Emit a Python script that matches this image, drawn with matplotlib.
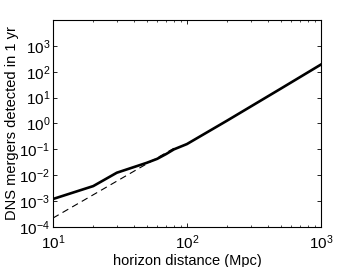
import numpy as np
import matplotlib.pyplot as plt

plt.rcParams['font.family'] = ['Liberation Sans', 'DejaVu Sans']

# solid curve: total detected mergers
dist_solid = [10, 20, 30, 50, 60, 70, 80, 100, 200, 500, 1000]
rate_solid = [1.2e-3, 3.8e-3, 1.25e-2, 3.0e-2, 4.3e-2, 6.6e-2, 1.0e-1, 1.6e-1, 1.3, 22, 190]

# dashed curve: cubic scaling
dist_dash = [10, 20, 40, 60, 80]
rate_dash = [2.2e-4, 1.75e-3, 1.4e-2, 4.7e-2, 1.1e-1]

fig = plt.figure(figsize=(3.55, 2.67), dpi=100)
ax = fig.add_axes([0.149, 0.150, 0.755, 0.775])

ax.loglog(dist_solid, rate_solid, 'k-', lw=1.9)
ax.loglog(dist_dash, rate_dash, 'k--', lw=0.8, dashes=(6, 4))

ax.set_xlim(10, 1000)
ax.set_ylim(1e-4, 1e4)
ax.set_yticks([1e-4, 1e-3, 1e-2, 1e-1, 1e0, 1e1, 1e2, 1e3])
ax.set_xticks([10, 100, 1000])
ax.tick_params(which='both', direction='in', top=True, right=True, labelsize=11)
ax.tick_params(axis='x', which='major', pad=5)
ax.tick_params(axis='y', which='major', pad=2)
ax.tick_params(which='major', length=3, width=0.6)
ax.tick_params(which='minor', length=1.5, width=0.5)
for s in ax.spines.values():
    s.set_linewidth(0.8)

ax.set_xlabel('horizon distance (Mpc)', fontsize=10.5, labelpad=1)
ax.set_ylabel('DNS mergers detected in 1 yr', fontsize=10.5, labelpad=0)

plt.savefig('out.png', dpi=100)
